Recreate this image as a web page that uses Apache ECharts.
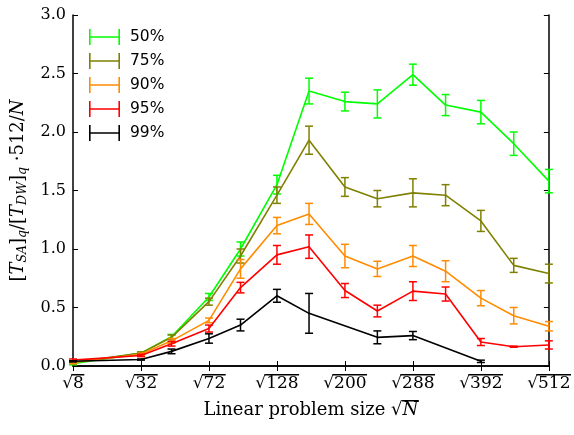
<!DOCTYPE html>
<html>
<head>
<meta charset="utf-8">
<script src="https://cdn.jsdelivr.net/npm/echarts@6/dist/echarts.min.js"></script>
<style>
  * { margin: 0; padding: 0; }
  #chart { width: 574px; height: 435px; background: #fff; }
</style>
</head>
<body>
<div id="chart"></div>
<script>
// problem sizes N, plotted at sqrt(N)
const sizesN = [8, 32, 48, 72, 96, 128, 160, 200, 240, 288, 336, 392, 448, 512];
const names = ['50%', '75%', '90%', '95%', '99%'];
const colors = ['#00ff00', '#808000', '#ff8c00', '#ff0000', '#000000'];

const q50 = [0.02, 0.11, 0.25, 0.59, 1.00, 1.55, 2.35, 2.26, 2.24, 2.49, 2.23, 2.17, 1.90, 1.58];
const e50 = [0.01, 0.01, 0.02, 0.03, 0.06, 0.08, 0.11, 0.08, 0.12, 0.09, 0.09, 0.10, 0.10, 0.10];
const q75 = [0.03, 0.11, 0.245, 0.55, 0.94, 1.46, 1.93, 1.53, 1.43, 1.48, 1.46, 1.24, 0.86, 0.79];
const e75 = [0.01, 0.01, 0.02, 0.03, 0.06, 0.07, 0.12, 0.08, 0.07, 0.12, 0.09, 0.09, 0.06, 0.08];
const q90 = [0.03, 0.10, 0.215, 0.39, 0.83, 1.20, 1.30, 0.94, 0.83, 0.94, 0.81, 0.58, 0.43, 0.34];
const e90 = [0.01, 0.01, 0.02, 0.02, 0.08, 0.07, 0.09, 0.10, 0.065, 0.09, 0.09, 0.065, 0.07, 0.04];
const q95 = [0.05, 0.09, 0.19, 0.32, 0.67, 0.95, 1.02, 0.645, 0.47, 0.64, 0.615, 0.205, 0.165, 0.18];
const e95 = [0.01, 0.01, 0.02, 0.03, 0.045, 0.08, 0.10, 0.06, 0.05, 0.08, 0.06, 0.03, 0.005, 0.035];
const q99 = [0.04, 0.055, 0.125, 0.235, 0.35, 0.60, 0.45, null, 0.245, 0.26, null, 0.04, null, null];
const e99 = [0.005, 0.005, 0.02, 0.04, 0.05, 0.055, 0.17, null, 0.055, 0.035, null, 0.01, null, null];

const values = [q50, q75, q90, q95, q99];
const errors = [e50, e75, e90, e95, e99];

const serif = 'DejaVu Serif';
const tickFont = 17;
const titleFont = 18;
const step = Math.sqrt(8);
const barIcon = 'path://M0,0H1.6V16H0Z M29.4,0H31V16H29.4Z M0,7.2H31V8.8H0Z';

// text widths, for the overline bars of the square roots
const ctx = document.createElement('canvas').getContext('2d');
ctx.font = tickFont + 'px "DejaVu Serif"';
const rootW = ctx.measureText('\u221A').width;
const digitW = ctx.measureText('0').width;
ctx.font = titleFont + 'px "DejaVu Serif"';
const titleW = ctx.measureText('Linear problem size \u221A').width;
ctx.font = 'italic ' + titleFont + 'px "DejaVu Serif"';
const nW = ctx.measureText('N').width;

function points(vals, errs) {
  const out = [];
  for (let i = 0; i < sizesN.length; i++) {
    if (vals[i] == null) continue;
    out.push([Math.sqrt(sizesN[i]), vals[i], errs[i]]);
  }
  return out;
}

function errorBar(params, api) {
  const x = api.value(0), y = api.value(1), e = api.value(2);
  const top = api.coord([x, y + e]);
  const bot = api.coord([x, y - e]);
  const w = 4;
  const style = { stroke: api.visual('color'), lineWidth: 1.5 };
  return {
    type: 'group',
    children: [
      { type: 'line', shape: { x1: top[0], y1: top[1], x2: bot[0], y2: bot[1] }, style: style },
      { type: 'line', shape: { x1: top[0] - w, y1: top[1], x2: top[0] + w, y2: top[1] }, style: style },
      { type: 'line', shape: { x1: bot[0] - w, y1: bot[1], x2: bot[0] + w, y2: bot[1] }, style: style }
    ]
  };
}

function rootLabel(v) {
  const n = String(Math.round(v * v));
  return '{g| }{b' + n.length + '| }\n{r|\u221A}{n|' + n + '}';
}

function bar(w, filled) {
  const s = { width: w, height: 1.5, lineHeight: 1.5, fontSize: 1 };
  if (filled) s.backgroundColor = '#000';
  return s;
}

const series = [];
names.forEach(function (name, k) {
  const data = points(values[k], errors[k]);
  series.push({
    name: name,
    type: 'line',
    data: data,
    showSymbol: false,
    symbol: 'none',
    color: colors[k],
    lineStyle: { width: 1.6, color: colors[k] },
    z: 2 + k
  });
  series.push({
    name: name,
    type: 'custom',
    data: data,
    renderItem: errorBar,
    encode: { x: 0, y: 1 },
    itemStyle: { color: colors[k] },
    z: 2 + k
  });
});

const axisLine = { show: true, lineStyle: { color: '#000', width: 1.5 } };
const axisTick = { show: true, inside: true, length: 5, lineStyle: { color: '#000', width: 1 } };
const xRange = { min: step, max: Math.sqrt(512), interval: step };
const yRange = { min: 0, max: 3, interval: 0.5 };

const chart = echarts.init(document.getElementById('chart'));
chart.setOption({
  backgroundColor: '#fff',
  animation: false,
  grid: { left: 73, right: 24, top: 15, bottom: 69 },
  legend: {
    orient: 'vertical',
    left: 84,
    top: 24,
    itemWidth: 31,
    itemHeight: 16,
    itemGap: 8,
    data: names.map(function (n) { return { name: n, icon: barIcon }; }),
    textStyle: { fontFamily: 'DejaVu Sans', fontSize: 15.5, color: '#000', padding: [0, 0, 0, 5] }
  },
  xAxis: [
    Object.assign({
      type: 'value',
      position: 'bottom',
      axisLine: axisLine,
      axisTick: axisTick,
      splitLine: { show: false },
      name: '{g| }{b| }\n{n|Linear problem size \u221A}{i|N}',
      nameLocation: 'middle',
      nameGap: 34,
      nameTextStyle: {
        rich: {
          g: bar(titleW, false),
          b: bar(nW + 1, true),
          n: { fontFamily: serif, fontSize: titleFont, lineHeight: 18, color: '#000' },
          i: { fontFamily: serif, fontStyle: 'italic', fontSize: titleFont, lineHeight: 18, color: '#000' }
        }
      },
      axisLabel: {
        margin: 8,
        formatter: rootLabel,
        rich: {
          g: bar(rootW - 1, false),
          b1: bar(digitW + 2, true),
          b2: bar(digitW * 2 + 2, true),
          b3: bar(digitW * 3 + 2, true),
          r: { fontFamily: serif, fontSize: tickFont, lineHeight: 16, color: '#000' },
          n: { fontFamily: serif, fontSize: tickFont, lineHeight: 16, color: '#000' }
        }
      }
    }, xRange),
    Object.assign({
      type: 'value',
      position: 'top',
      axisLine: axisLine,
      axisTick: axisTick,
      axisLabel: { show: false },
      splitLine: { show: false }
    }, xRange)
  ],
  yAxis: [
    Object.assign({
      type: 'value',
      position: 'left',
      axisLine: axisLine,
      axisTick: axisTick,
      splitLine: { show: false },
      axisLabel: {
        margin: 7,
        fontFamily: serif,
        fontSize: 16,
        color: '#000',
        formatter: function (v) { return v.toFixed(1); }
      },
      name: '{n|[}{i|T}{s|SA}{n|]}{s|q}{n|/[}{i|T}{s|DW}{n|]}{s|q}{n| \u00B7512/}{i|N}',
      nameLocation: 'middle',
      nameRotate: 90,
      nameGap: 43,
      nameTextStyle: {
        rich: {
          n: { fontFamily: serif, fontSize: 18, color: '#000' },
          i: { fontFamily: serif, fontStyle: 'italic', fontSize: 18, color: '#000' },
          s: { fontFamily: serif, fontStyle: 'italic', fontSize: 12.5, color: '#000', padding: [9, 0, 0, 0] }
        }
      }
    }, yRange),
    Object.assign({
      type: 'value',
      position: 'right',
      axisLine: axisLine,
      axisTick: axisTick,
      axisLabel: { show: false },
      splitLine: { show: false }
    }, yRange)
  ],
  series: series
});
</script>
</body>
</html>
